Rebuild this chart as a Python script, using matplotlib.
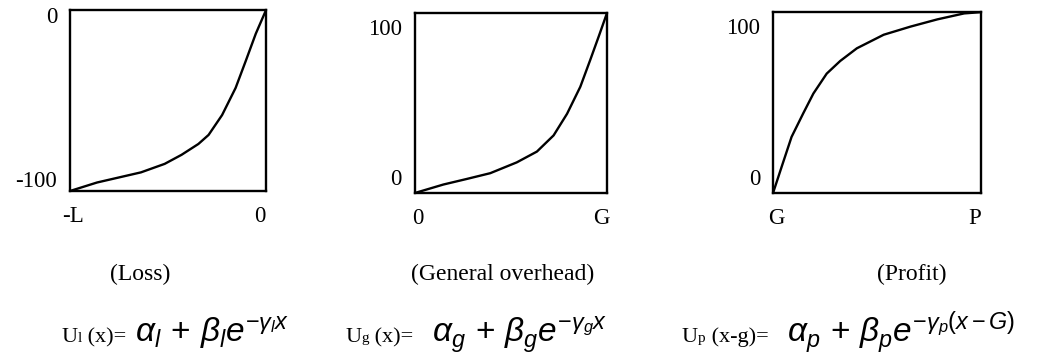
import matplotlib
matplotlib.use("Agg")
import matplotlib.pyplot as plt

plt.rcParams["font.family"] = ["Liberation Serif", "DejaVu Serif"]
plt.rcParams["mathtext.fontset"] = "custom"
plt.rcParams["mathtext.it"] = "Liberation Sans:italic"
plt.rcParams["mathtext.rm"] = "Liberation Sans"
plt.rcParams["mathtext.bf"] = "Liberation Sans:bold"

# Utility curves, x normalised to the axis range (0 = left edge, 1 = right edge)
loss_x = [0.0, 0.138, 0.25, 0.362, 0.483, 0.569, 0.655, 0.707, 0.776, 0.845, 0.897, 0.948, 1.0]
loss_u = [-100, -95.3, -92.5, -89.7, -85, -80, -74, -69, -58, -43, -28, -13, 0]

overhead_x = [0.0, 0.148, 0.27, 0.392, 0.53, 0.635, 0.722, 0.792, 0.861, 0.913, 0.957, 1.0]
overhead_u = [0, 4.7, 7.8, 11, 17, 23, 32, 44, 59, 74, 87, 100]

profit_x = [0.0, 0.04, 0.089, 0.145, 0.194, 0.258, 0.323, 0.403, 0.532, 0.661, 0.79, 0.919, 1.0]
profit_u = [0, 14, 31, 44, 55, 66, 73, 80, 87.5, 92, 96, 99.3, 100]

panels = [
    dict(x=loss_x, u=loss_u, ylim=(-100, 0), ylabels=("-100", "0"), xlabels=("-L", "0"),
         ydy=(9, -7), title="(Loss)", sub="l", tail=" (x)=",
         formula=r"$\alpha_l\,+\,\beta_l e^{-\gamma_l x}$",
         rect=[0.066, 0.4635, 0.1847, 0.508], title_px=140, prefix_px=62, math_px=135),
    dict(x=overhead_x, u=overhead_u, ylim=(0, 100), ylabels=("0", "100"), xlabels=("0", "G"),
         ydy=(13, -17), title="(General overhead)", sub="g", tail=" (x)=",
         formula=r"$\alpha_g\,+\,\beta_g e^{-\gamma_g x}$",
         rect=[0.3911, 0.4579, 0.181, 0.5056], title_px=503, prefix_px=345, math_px=432),
    dict(x=profit_x, u=profit_u, ylim=(0, 100), ylabels=("0", "100"), xlabels=("G", "P"),
         ydy=(13, -16), title="(Profit)", sub="p", tail=" (x-g)=",
         formula=r"$\alpha_p\,+\,\beta_p e^{-\gamma_p (x-G)}$",
         rect=[0.7286, 0.4579, 0.196, 0.508], title_px=912, prefix_px=682, math_px=787),
]

W, H = 1061, 356
fig = plt.figure(figsize=(W / 100, H / 100), dpi=100)
renderer = fig.canvas.get_renderer()


def text_run(x_px, y_px, pieces):
    """Lay out text pieces left to right on a common baseline."""
    x = x_px
    for s, size in pieces:
        t = fig.text(x / W, 1 - y_px / H, s, ha="left", va="baseline", fontsize=size)
        x = t.get_window_extent(renderer).x1
    return x


for p in panels:
    ax = fig.add_axes(p["rect"])
    ax.plot(p["x"], p["u"], color="black", lw=1.7, solid_capstyle="round")
    ax.set_xlim(0, 1)
    ax.set_ylim(*p["ylim"])
    ax.set_xticks([])
    ax.set_yticks([])
    for s in ax.spines.values():
        s.set_linewidth(1.7)

    lo, hi = p["ylim"]
    ytr = ax.get_yaxis_transform()
    ax.annotate(p["ylabels"][0], xy=(0, lo), xycoords=ytr, xytext=(-13, p["ydy"][0]),
                textcoords="offset pixels", ha="right", va="center", fontsize=16.5)
    ax.annotate(p["ylabels"][1], xy=(0, hi), xycoords=ytr, xytext=(-13, p["ydy"][1]),
                textcoords="offset pixels", ha="right", va="center", fontsize=16.5)
    xtr = ax.get_xaxis_transform()
    ax.annotate(p["xlabels"][0], xy=(0, 0), xycoords=xtr, xytext=(3, -26),
                textcoords="offset pixels", ha="center", va="center", fontsize=16.5)
    ax.annotate(p["xlabels"][1], xy=(1, 0), xycoords=xtr, xytext=(-6, -26),
                textcoords="offset pixels", ha="center", va="center", fontsize=16.5)

    fig.text(p["title_px"] / W, 1 - 274 / H, p["title"], ha="center", va="center", fontsize=17)
    text_run(p["prefix_px"], 342, [("U", 16), (p["sub"], 11), (p["tail"], 16)])
    fig.text(p["math_px"] / W, 1 - 342 / H, p["formula"], ha="left", va="baseline", fontsize=24)

fig.savefig("out.png", dpi=100)
